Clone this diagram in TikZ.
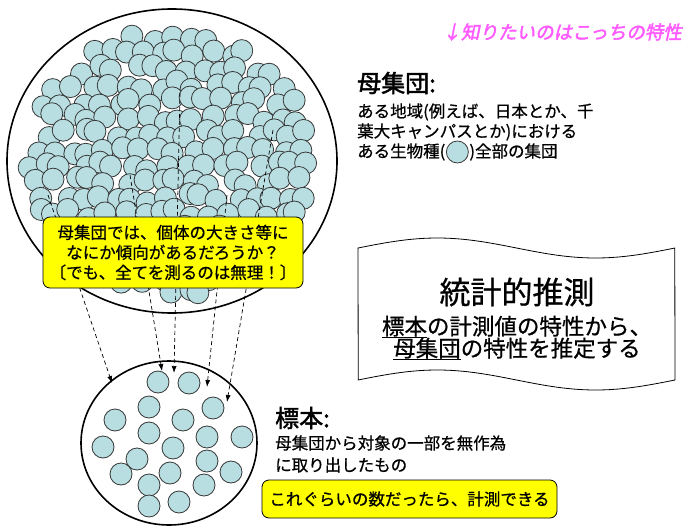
\documentclass[tikz,border=0pt]{standalone}
\usepackage{fontspec}
\setmainfont[FakeBold=0.7]{Noto Sans CJK JP}
\newfontfamily\jpbold[FakeBold=2]{Noto Sans CJK JP}
\newfontfamily\jpboldit[FakeBold=2.2,FakeSlant=0.2]{Noto Sans CJK JP}
\usetikzlibrary{arrows.meta,shapes.geometric}
\definecolor{cellfill}{RGB}{184,222,225}
\definecolor{cellline}{RGB}{55,55,55}
\definecolor{memo}{RGB}{255,90,255}
\definecolor{hiyellow}{RGB}{255,255,0}
\newcommand\ulx[1]{\setbox0=\hbox{#1}\rlap{\rule[-3.5pt]{\wd0}{1.3pt}}\box0}
\begin{document}
\begin{tikzpicture}[x=1pt,y=-1pt,
  cell/.style={fill=cellfill,draw=cellline,line width=0.8pt},
  cellnode/.style={circle,fill=cellfill,draw=cellline,line width=0.8pt,minimum size=22pt,inner sep=0pt},
  container/.style={ellipse,draw=black,line width=1.6pt,inner sep=0pt},
  pick/.style={dash pattern=on 4pt off 3pt,line width=0.7pt,-{Latex[length=7pt,width=5pt]}},
  body/.style={font=\fontsize{16.5}{20}\selectfont,inner sep=0pt,anchor=west},
  head/.style={font=\jpbold\fontsize{24}{28}\selectfont,inner sep=0pt,anchor=west},
  ybox/.style={draw=black,line width=0.8pt,fill=hiyellow,rounded corners=7pt,align=center,inner sep=0pt,font=\fontsize{16.5}{20}\selectfont},
  wavetext/.style={inner sep=0pt,font=\fontsize{22.5}{26}\selectfont}
]
\useasboundingbox (0,0) rectangle (688,530);
\fill[white] (0,0) rectangle (688,530);

% population container
\node[container,minimum width=330pt,minimum height=304pt] (pop) at (172,161) {};

% population individuals
\pgfmathsetseed{11}
\foreach \j in {0,...,17}{
  \foreach \i in {0,...,19}{
    \pgfmathsetmacro\cx{20+17.5*\i+mod(\j,2)*8.75+6*rand}
    \pgfmathsetmacro\cy{22+16*\j+5*rand}
    \pgfmathtruncatemacro\inside{((\cx-172)/146)^2+((\cy-161)/134)^2<1}
    \ifnum\inside=1 \draw[cell] (\cx,\cy) circle[radius=11]; \fi
  }
}

% sample container
\node[container,minimum width=176pt,minimum height=164pt] (samp) at (169,443) {};
\foreach \n/\p in {1/{158,382},2/{189,383},3/{149,407},4/{213,408},5/{115,420},
  6/{183,420},7/{149,433},8/{207,437},9/{242,437},10/{103,447},11/{173,448},
  12/{137,459},13/{207,461},14/{121,474},15/{170,473},16/{231,472},17/{149,485},
  18/{204,485},19/{149,506},20/{179,502}}{
  \node[cellnode] (c\n) at (\p) {};
}

% sampling arrows
\coordinate (s1) at (48,195);  \coordinate (e1) at (112,383);
\coordinate (s2) at (130,175); \coordinate (e2) at (162,371);
\coordinate (s3) at (180,93);  \coordinate (e3) at (174,373);
\coordinate (s4) at (227,195); \coordinate (e4) at (207,387);
\coordinate (s5) at (273,130); \coordinate (e5) at (227,402);
\foreach \k in {1,...,5}{ \draw[pick] (s\k) -- (e\k); }

% question box
\node[ybox,minimum width=260pt,minimum height=71pt] (q) at (173,252.5)
  {母集団では、個体の大きさ等に\\なにか傾向があるだろうか？\\〔でも、全てを測るのは無理！〕};

% memo
\node[inner sep=0pt,anchor=east,text=memo,font=\jpboldit\fontsize{18.5}{20}\selectfont] (memo) at (682,32) {↓知りたいのはこっちの特性};

% population description
\node[head] (ph) at (357,83) {母集団:};
\node[body] (p1) at (357,112) {ある地域(例えば、日本とか、千};
\node[body] (p2) at (357,132) {葉大キャンパスとか)における};
\node[body] (p3a) at (357,152) {ある生物種(};
\node[cellnode,anchor=west] (pc) at ([xshift=0.5pt]p3a.east) {};
\node[body] (p3b) at ([xshift=0.5pt]pc.east) {)全部の集団};

% wave box
\draw[line width=0.8pt,fill=white]
  plot[domain=0:1,samples=60] ({358+317*\x},{248-10*sin(360*\x)})
  -- plot[domain=1:0,samples=60] ({358+317*\x},{380-10*sin(360*\x)}) -- cycle;
\node[inner sep=0pt,font=\fontsize{31}{34}\selectfont] (t1) at (517,292) {統計的推測};
\node[wavetext] (t2) at (517,327) {\ulx{標本}の計測値の特性から、};
\node[wavetext] (t3) at (517,349) {\ulx{母集団}の特性を推定する};

% sample description
\node[head] (sh) at (275,418) {標本:};
\node[body] (s1t) at (275,443) {母集団から対象の一部を無作為};
\node[body] (s2t) at (275,465) {に取り出したもの};
\node[ybox,minimum width=295pt,minimum height=38pt] (ok) at (409.5,499)
  {これぐらいの数だったら、計測できる};
\end{tikzpicture}
\end{document}
